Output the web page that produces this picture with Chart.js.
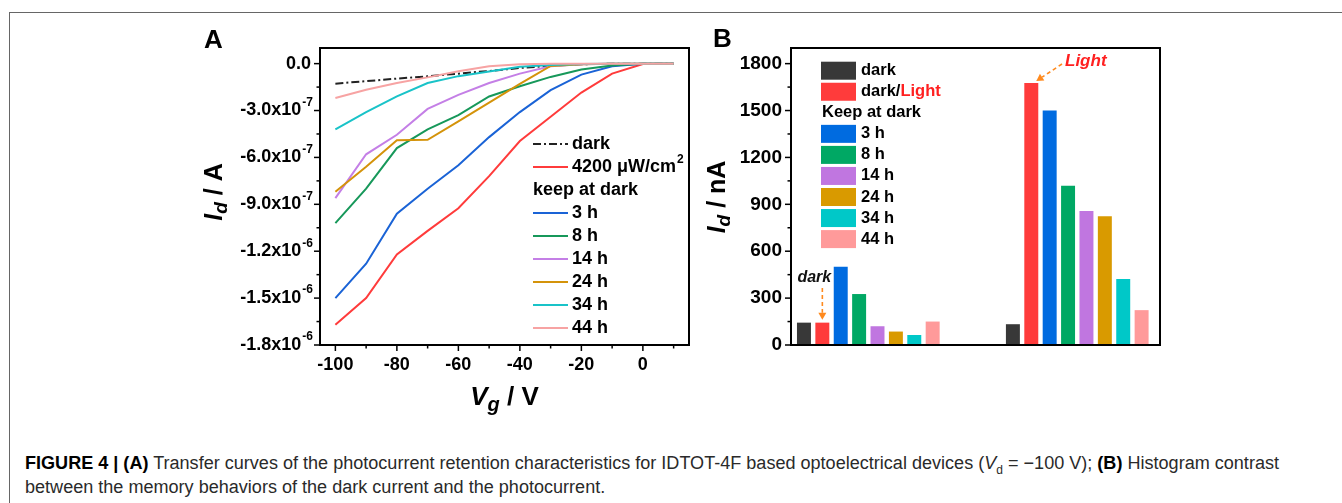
<!DOCTYPE html>
<html>
<head>
<meta charset="utf-8">
<script src="https://cdn.jsdelivr.net/npm/chart.js@4.4.1/dist/chart.umd.min.js"></script>
<style>
  html, body { margin: 0; padding: 0; background: #fff; }
  body { width: 1342px; height: 503px; position: relative; overflow: hidden; font-family: 'Liberation Sans', Arial, sans-serif; }
  #frame { position: absolute; left: 9px; top: 12px; width: 1340px; height: 500px; border-top: 1px solid #666; border-left: 1px solid #666; }
  #chartA { position: absolute; left: 0; top: 0; }
  #chartB { position: absolute; left: 700px; top: 0; }
  .cap { position: absolute; left: 25px; white-space: nowrap; font-size: 18px; line-height: 24px; color: #2a2a2a; transform-origin: 0 0; }
  .cap b { color: #000; }
</style>
</head>
<body>
<div id="frame"></div>
<canvas id="chartA" width="700" height="420"></canvas>
<canvas id="chartB" width="642" height="420"></canvas>
<div class="cap" id="cap1" style="top:451px"><b>FIGURE 4 | (A)</b> Transfer curves of the photocurrent retention characteristics for IDTOT-4F based optoelectrical devices (<i>V</i><sub style="font-size:12px">d</sub> = −100 V); <b>(B)</b> Histogram contrast</div>
<div class="cap" id="cap2" style="top:475px">between the memory behaviors of the dark current and the photocurrent.</div>
<script>
// ---- panel A: transfer curves ----
const vg = [-100, -90, -80, -70, -60, -50, -40, -30, -20, -10, 0, 10];
const darkI = [-1.28e-7, -1.12e-7, -9.6e-8, -8.1e-8, -6.4e-8, -4.7e-8, -2.8e-8, -1.3e-8, -4e-9, -1e-9, 0, 0];
const light4200 = [-1.67e-6, -1.50e-6, -1.22e-6, -1.07e-6, -9.25e-7, -7.2e-7, -4.95e-7, -3.4e-7, -1.85e-7, -6.4e-8, -3e-9, 0];
const keep3h = [-1.50e-6, -1.28e-6, -9.6e-7, -8.0e-7, -6.5e-7, -4.7e-7, -3.1e-7, -1.7e-7, -7e-8, -1.7e-8, 0, 0];
const keep8h = [-1.02e-6, -8.0e-7, -5.4e-7, -4.2e-7, -3.3e-7, -2.1e-7, -1.45e-7, -8.5e-8, -3.8e-8, -1.2e-8, 0, 0];
const keep14h = [-8.6e-7, -5.8e-7, -4.55e-7, -2.9e-7, -2.0e-7, -1.24e-7, -6.4e-8, -1.7e-8, -4e-9, 0, 0, 0];
const keep24h = [-8.2e-7, -6.6e-7, -4.9e-7, -4.87e-7, -3.7e-7, -2.5e-7, -1.3e-7, -1.5e-8, -4e-9, 0, 0, 0];
const keep34h = [-4.2e-7, -3.1e-7, -2.1e-7, -1.24e-7, -8e-8, -5e-8, -2e-8, -8e-9, -2e-9, 0, 0, 0];
const keep44h = [-2.2e-7, -1.67e-7, -1.24e-7, -8.8e-8, -4.9e-8, -1.7e-8, -4e-9, 0, 0, 0, 0, 0];

const xTicksA = [-100, -80, -60, -40, -20, 0];
const yTicksA = [0, -3e-7, -6e-7, -9e-7, -1.2e-6, -1.5e-6, -1.8e-6];
const yTickTextA = [['0.0', ''], ['-3.0x10', '-7'], ['-6.0x10', '-7'], ['-9.0x10', '-7'],
                    ['-1.2x10', '-6'], ['-1.5x10', '-6'], ['-1.8x10', '-6']];

// ---- panel B: histogram ----
const groupX = [1, 2]; // dark-current group, photocurrent group
const barNames = ['dark', 'dark/Light', '3 h', '8 h', '14 h', '24 h', '34 h', '44 h'];
const barDark = [143, 133];
const barLight = [143, 1676];
const bar3h = [501, 1500];
const bar8h = [326, 1018];
const bar14h = [120, 857];
const bar24h = [86, 823];
const bar34h = [64, 422];
const bar44h = [150, 223];
const yTicksB = [0, 300, 600, 900, 1200, 1500, 1800];

const FONT = '"Liberation Sans", Arial, sans-serif';

function richText(ctx, parts, x, y, align) {
  let w = 0;
  parts.forEach(p => { ctx.font = p.font; p.w = ctx.measureText(p.text).width; w += p.w; });
  let cx = align === 'center' ? x - w / 2 : align === 'right' ? x - w : x;
  ctx.textAlign = 'left';
  ctx.textBaseline = 'alphabetic';
  parts.forEach(p => {
    ctx.font = p.font;
    ctx.fillStyle = p.color || '#000';
    ctx.fillText(p.text, cx, y + (p.dy || 0));
    cx += p.w;
  });
}

function seg(ctx, x1, y1, x2, y2) {
  ctx.beginPath(); ctx.moveTo(x1, y1); ctx.lineTo(x2, y2); ctx.stroke();
}

function dashedArrow(ctx, x1, y1, x2, y2) {
  const col = '#ff8a1e';
  ctx.save();
  ctx.strokeStyle = col; ctx.fillStyle = col; ctx.lineWidth = 1.6;
  const ang = Math.atan2(y2 - y1, x2 - x1);
  const hx = x2 - 7 * Math.cos(ang), hy = y2 - 7 * Math.sin(ang);
  ctx.setLineDash([4, 3]);
  seg(ctx, x1, y1, hx, hy);
  ctx.setLineDash([]);
  ctx.beginPath();
  ctx.moveTo(x2, y2);
  ctx.lineTo(hx + 4 * Math.sin(ang), hy - 4 * Math.cos(ang));
  ctx.lineTo(hx - 4 * Math.sin(ang), hy + 4 * Math.cos(ang));
  ctx.closePath(); ctx.fill();
  ctx.restore();
}

const lineColors = ['#222222', '#ff3b3b', '#1a63d6', '#17985a', '#c47fe6', '#d4930a', '#19c3c8', '#f7a3a3'];
const lineNames = ['dark', '4200 μW/cm', '3 h', '8 h', '14 h', '24 h', '34 h', '44 h'];
const lineSeries = [darkI, light4200, keep3h, keep8h, keep14h, keep24h, keep34h, keep44h];

const panelA = {
  id: 'panelA',
  afterDraw(chart) {
    const { ctx, chartArea: a, scales: { x, y } } = chart;
    ctx.save();
    ctx.strokeStyle = '#000';
    ctx.lineWidth = 2;
    ctx.strokeRect(a.left, a.top, a.right - a.left, a.bottom - a.top);
    ctx.lineWidth = 1.5;
    // x ticks (major every 20, minor every 10)
    for (let v = -100; v <= 10; v += 10) {
      const px = x.getPixelForValue(v);
      seg(ctx, px, a.bottom, px, a.bottom + (v % 20 === 0 ? 6 : 3.5));
    }
    // y ticks
    for (let i = 0; i <= 12; i++) {
      const py = y.getPixelForValue(-i * 1.5e-7);
      seg(ctx, a.left, py, a.left - (i % 2 === 0 ? 6 : 3.5), py);
    }
    ctx.fillStyle = '#000';
    ctx.font = 'bold 18px ' + FONT;
    ctx.textAlign = 'center';
    ctx.textBaseline = 'middle';
    xTicksA.forEach(v => ctx.fillText(String(v), x.getPixelForValue(v), a.bottom + 20));
    yTicksA.forEach((v, i) => {
      const py = y.getPixelForValue(v);
      const right = a.left - 7;
      const [m, e] = yTickTextA[i];
      ctx.font = 'bold 12px ' + FONT;
      const ew = e ? ctx.measureText(e).width : 0;
      ctx.textAlign = 'left';
      if (e) ctx.fillText(e, right - ew, py - 8);
      ctx.font = 'bold 18px ' + FONT;
      ctx.textAlign = 'right';
      ctx.fillText(m, right - ew - (e ? 1 : 2), py);
    });
    // axis titles
    richText(ctx, [
      { text: 'V', font: 'italic bold 26px ' + FONT },
      { text: 'g', font: 'italic bold 20px ' + FONT, dy: 6 },
      { text: ' / V', font: 'bold 26px ' + FONT }
    ], (a.left + a.right) / 2, 405, 'center');
    ctx.save();
    ctx.translate(222, 192);
    ctx.rotate(-Math.PI / 2);
    richText(ctx, [
      { text: 'I', font: 'italic bold 25px ' + FONT },
      { text: 'd', font: 'italic bold 19px ' + FONT, dy: 5 },
      { text: ' / A', font: 'bold 25px ' + FONT }
    ], 0, 0, 'center');
    ctx.restore();
    // panel letter
    ctx.font = 'bold 26px ' + FONT;
    ctx.textAlign = 'left';
    ctx.textBaseline = 'alphabetic';
    ctx.fillText('A', 204, 48);
    // legend
    const lx = 533, tx = 572, step = 23;
    let ly = 144;
    ctx.textBaseline = 'middle';
    ctx.font = 'bold 18px ' + FONT;
    lineNames.forEach((name, i) => {
      if (i === 2) {
        ctx.fillStyle = '#000';
        ctx.fillText('keep at dark', lx, ly);
        ly += step;
      }
      ctx.strokeStyle = lineColors[i];
      ctx.lineWidth = 2;
      ctx.setLineDash(i === 0 ? [8, 3, 2, 3] : []);
      seg(ctx, lx, ly, lx + 35, ly);
      ctx.setLineDash([]);
      ctx.fillStyle = '#000';
      ctx.font = 'bold 18px ' + FONT;
      ctx.fillText(name, tx, ly);
      if (i === 1) {
        const w = ctx.measureText(name).width;
        ctx.font = 'bold 12px ' + FONT;
        ctx.fillText('2', tx + w + 1, ly - 7);
        ctx.font = 'bold 18px ' + FONT;
      }
      ly += step;
    });
    ctx.restore();
  }
};

new Chart(document.getElementById('chartA'), {
  type: 'line',
  data: {
    datasets: lineSeries.map((s, i) => ({
      label: lineNames[i],
      data: vg.map((v, k) => ({ x: v, y: s[k] })),
      borderColor: lineColors[i],
      borderWidth: 2,
      borderDash: i === 0 ? [8, 3, 2, 3] : [],
      pointRadius: 0,
      tension: 0,
      fill: false
    })).reverse()
  },
  options: {
    responsive: false,
    animation: false,
    layout: { padding: { top: 48, right: 11, left: 0, bottom: 0 } },
    plugins: { legend: { display: false }, tooltip: { enabled: false } },
    scales: {
      x: {
        type: 'linear', min: -105, max: 15,
        grid: { display: false }, border: { display: false },
        ticks: { display: false },
        afterFit: s => { s.height = 75; }
      },
      y: {
        type: 'linear', min: -1.8e-6, max: 1.0e-7,
        grid: { display: false }, border: { display: false },
        ticks: { display: false },
        afterFit: s => { s.width = 320; }
      }
    }
  },
  plugins: [panelA]
});

const barColors = ['#383838', '#ff3b3b', '#006be0', '#00a864', '#c076e0', '#d99a00', '#00c8c8', '#ff9a9a'];
const barSeries = [barDark, barLight, bar3h, bar8h, bar14h, bar24h, bar34h, bar44h];

const panelB = {
  id: 'panelB',
  afterDraw(chart) {
    const { ctx, chartArea: a, scales: { y } } = chart;
    ctx.save();
    ctx.strokeStyle = '#000';
    ctx.lineWidth = 2;
    ctx.strokeRect(a.left, a.top, a.right - a.left, a.bottom - a.top);
    ctx.lineWidth = 1.5;
    for (let v = 0; v <= 1800; v += 150) {
      const py = y.getPixelForValue(v);
      seg(ctx, a.left, py, a.left - (v % 300 === 0 ? 6 : 3.5), py);
    }
    ctx.fillStyle = '#000';
    ctx.font = 'bold 19px ' + FONT;
    ctx.textAlign = 'right';
    ctx.textBaseline = 'middle';
    yTicksB.forEach(v => ctx.fillText(String(v), a.left - 9, y.getPixelForValue(v)));
    ctx.save();
    ctx.translate(25, 197);
    ctx.rotate(-Math.PI / 2);
    richText(ctx, [
      { text: 'I', font: 'italic bold 25px ' + FONT },
      { text: 'd', font: 'italic bold 19px ' + FONT, dy: 5 },
      { text: ' / nA', font: 'bold 25px ' + FONT }
    ], 0, 0, 'center');
    ctx.restore();
    ctx.font = 'bold 26px ' + FONT;
    ctx.textAlign = 'left';
    ctx.textBaseline = 'alphabetic';
    ctx.fillStyle = '#000';
    ctx.fillText('B', 13, 47);
    // legend
    const px = 121, tx = 161, step = 21.05;
    let ly = 70.7;
    ctx.textBaseline = 'middle';
    barNames.forEach((name, i) => {
      if (i === 2) {
        ctx.fillStyle = '#000';
        ctx.font = 'bold 16.5px ' + FONT;
        ctx.fillText('Keep at dark', 122, ly);
        ly += step;
      }
      ctx.fillStyle = barColors[i];
      ctx.fillRect(px, ly - 9, 35, 18);
      ctx.font = 'bold 16.5px ' + FONT;
      ctx.fillStyle = '#000';
      if (i === 1) {
        ctx.fillText('dark/', tx, ly);
        const w = ctx.measureText('dark/').width;
        ctx.fillStyle = '#ff2020';
        ctx.fillText('Light', tx + w, ly);
      } else {
        ctx.fillText(name, tx, ly);
      }
      ly += step;
    });
    // annotations pointing at the dark/Light bars
    const meta = chart.getDatasetMeta(1);
    const b0 = meta.data[0], b1 = meta.data[1];
    ctx.font = 'italic bold 16px ' + FONT;
    ctx.textAlign = 'center';
    ctx.fillStyle = '#111';
    ctx.fillText('dark', b0.x - 8, 278);
    dashedArrow(ctx, b0.x, 288, b0.x, b0.y - 3);
    ctx.font = 'italic bold 17px ' + FONT;
    ctx.textAlign = 'left';
    ctx.fillStyle = '#ff2020';
    ctx.fillText('Light', 365, 61);
    dashedArrow(ctx, 362, 64, b1.x + 5, b1.y - 2);
    ctx.restore();
  }
};

new Chart(document.getElementById('chartB'), {
  type: 'bar',
  data: {
    datasets: barSeries.map((s, i) => ({
      label: barNames[i],
      data: groupX.map((g, k) => ({ x: g, y: s[k] })),
      backgroundColor: barColors[i],
      borderWidth: 0,
      categoryPercentage: 0.704,
      barPercentage: 0.76
    }))
  },
  options: {
    responsive: false,
    animation: false,
    layout: { padding: { top: 48, right: 182, left: 0, bottom: 0 } },
    plugins: { legend: { display: false }, tooltip: { enabled: false } },
    scales: {
      x: {
        type: 'linear', min: 0.630, max: 2.396,
        grid: { display: false }, border: { display: false },
        ticks: { display: false },
        // no hidden ticks, so the bar width comes from the group spacing only
        afterBuildTicks: s => { s.ticks = []; },
        afterFit: s => { s.height = 75; }
      },
      y: {
        type: 'linear', min: 0, max: 1900,
        grid: { display: false }, border: { display: false },
        ticks: { display: false },
        afterFit: s => { s.width = 91; }
      }
    }
  },
  plugins: [panelB]
});

// squeeze caption lines to the width seen in the figure
const cap1 = document.getElementById('cap1');
const cap2 = document.getElementById('cap2');
const k = 1254 / cap1.getBoundingClientRect().width;
cap1.style.transform = 'scaleX(' + k + ')';
cap2.style.transform = 'scaleX(' + k + ')';
</script>
</body>
</html>
